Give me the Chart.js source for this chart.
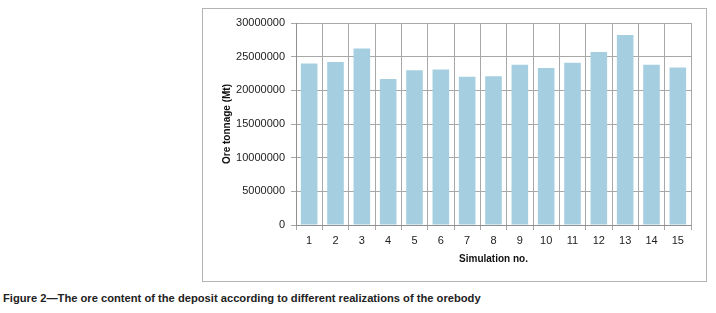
<!DOCTYPE html>
<html>
<head>
<meta charset="utf-8">
<script src="https://cdn.jsdelivr.net/npm/chart.js@4"></script>
<style>
  html, body { margin: 0; padding: 0; background: #fff; width: 716px; height: 313px; overflow: hidden; }
  #frame { position: absolute; left: 202px; top: 8px; width: 503px; height: 272px; border: 1.5px solid #b4b4b4; }
  #frame canvas { position: absolute; left: 0; top: 0; }
  #caption { position: absolute; left: 3px; top: 292px; font-family: "Liberation Sans Narrow", "Arial Narrow", "Liberation Sans", sans-serif; font-weight: bold; font-size: 11px; color: #222; white-space: nowrap; transform-origin: 0 0; transform: scaleX(1.015); }
</style>
</head>
<body>
<div id="frame"><canvas id="c" width="503" height="272"></canvas></div>
<div id="caption">Figure 2—The ore content of the deposit according to different realizations of the orebody</div>
<script>
const categories = ["1","2","3","4","5","6","7","8","9","10","11","12","13","14","15"];
const oreTonnage = [24000000, 24200000, 26200000, 21700000, 23000000, 23100000, 22000000, 22100000, 23800000, 23300000, 24100000, 25700000, 28200000, 23800000, 23400000];
const yTicks = [0, 5000000, 10000000, 15000000, 20000000, 25000000, 30000000];

const tickFont = { family: "'Liberation Sans', Arial, sans-serif", size: 11 };
const titleFont = { family: "'Liberation Sans', Arial, sans-serif", size: 10, weight: 'bold' };

new Chart(document.getElementById('c'), {
  type: 'bar',
  data: {
    labels: categories,
    datasets: [{
      data: oreTonnage,
      backgroundColor: '#a5cfe0',
      borderWidth: 0,
      barPercentage: 0.63,
      categoryPercentage: 1.0
    }]
  },
  options: {
    responsive: false,
    animation: false,
    devicePixelRatio: 1,
    layout: { padding: { top: 14, right: 15, left: 18, bottom: 16 } },
    plugins: { legend: { display: false }, tooltip: { enabled: false } },
    scales: {
      x: {
        offset: true,
        grid: { offset: true, color: '#a8a8a8', lineWidth: 1, tickLength: 5, drawTicks: true },
        border: { color: '#909090' },
        ticks: { color: '#222', font: tickFont, padding: 4, maxRotation: 0 },
        title: { display: true, text: 'Simulation no.', color: '#111', font: titleFont, padding: { top: 8, bottom: 0 } },
        afterFit: (s) => { s.height = 40; }
      },
      y: {
        min: 0, max: 30000000,
        afterBuildTicks: (s) => { s.ticks = yTicks.map(v => ({ value: v })); },
        grid: { color: '#a8a8a8', lineWidth: 1, tickLength: 5 },
        border: { color: '#909090' },
        ticks: { color: '#222', font: tickFont, padding: 6, callback: (v) => String(v) },
        title: { display: true, text: 'Ore tonnage (Mt)', color: '#111', font: titleFont, padding: { top: 0, bottom: 4 } },
        afterFit: (s) => { s.width = 75; }
      }
    }
  }
});
</script>
</body>
</html>
